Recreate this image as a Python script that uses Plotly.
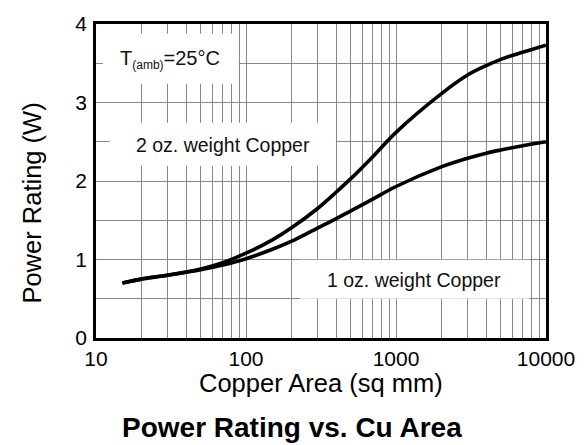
import plotly.graph_objects as go

# Data
copper_area = [15, 20, 30, 50, 70, 100, 150, 200, 300, 400, 500, 700, 1000,
               2000, 3000, 4000, 5000, 7000, 10000]
power_2oz = [0.70, 0.75, 0.80, 0.88, 0.96, 1.08, 1.25, 1.40, 1.65, 1.86, 2.03,
             2.31, 2.62, 3.11, 3.35, 3.47, 3.55, 3.64, 3.73]
power_1oz = [0.70, 0.75, 0.80, 0.87, 0.93, 1.01, 1.13, 1.23, 1.40, 1.52, 1.62,
             1.77, 1.93, 2.18, 2.29, 2.355, 2.395, 2.45, 2.50]

x_major_ticks = [10, 100, 1000, 10000]
x_major_text = ["10", "100", "1000", "10000"]
x_minor_ticks = [m * d for d in (10, 100, 1000) for m in range(2, 10)]
y_ticks = [0, 1, 2, 3, 4]
y_minor_ticks = [0.5, 1.5, 2.5, 3.5]

FONT = "Liberation Sans, Arial, sans-serif"
GRID = "#888888"

# plot area in pixels
L, R, T, B = 96, 550, 17, 338
W, H = 587, 445
PW, PH = R - L, B - T


def px(x):
    return (x - L) / PW


def py(y):
    return (B - y) / PH


fig = go.Figure()
for series in (power_2oz, power_1oz):
    fig.add_trace(go.Scatter(x=copper_area, y=series, mode="lines",
                             line=dict(color="black", width=3.6, shape="spline", smoothing=0.9),
                             showlegend=False, hoverinfo="skip"))

# white label boxes covering the gridlines (the curves do not pass through them)
boxes = [(103, 27, 240, 78), (110, 118, 338, 162), (302, 258, 533, 298)]
shapes = []
for (x0, y0, x1, y1) in boxes:
    shapes.append(dict(type="rect", xref="x domain", yref="y domain",
                       x0=px(x0), x1=px(x1), y0=py(y1), y1=py(y0),
                       fillcolor="white", line=dict(width=0), layer="above"))

annotations = [
    dict(text="T<sub><span style='font-size:12px'>(amb)</span></sub>=25°C", x=px(171), y=py(53),
         xref="paper", yref="paper",
         showarrow=False, font=dict(family=FONT, size=20, color="#111"),
         xanchor="center", yanchor="middle"),
    dict(text="2 oz. weight Copper", x=px(224), y=py(141), xref="paper", yref="paper",
         showarrow=False, font=dict(family=FONT, size=19.5, color="#111"),
         xanchor="center", yanchor="middle"),
    dict(text="1 oz. weight Copper", x=px(417), y=py(279), xref="paper", yref="paper",
         showarrow=False, font=dict(family=FONT, size=19.5, color="#111"),
         xanchor="center", yanchor="middle"),
    dict(text="Copper Area (sq mm)", x=0.5, y=py(384), xref="paper", yref="paper",
         showarrow=False, font=dict(family=FONT, size=25.5, color="black"),
         xanchor="center", yanchor="middle"),
    dict(text="Power Rating (W)", x=px(31), y=py(200), xref="paper", yref="paper",
         showarrow=False, textangle=-90, font=dict(family=FONT, size=25.5, color="black"),
         xanchor="center", yanchor="middle"),
    dict(text="<b>Power Rating vs. Cu Area</b>", x=px(294), y=py(430), xref="paper", yref="paper",
         showarrow=False, font=dict(family=FONT, size=28, color="black"),
         xanchor="center", yanchor="middle"),
]

fig.update_layout(
    width=W, height=H,
    margin=dict(l=L, r=W - R, t=T, b=H - B, pad=0),
    paper_bgcolor="white", plot_bgcolor="white",
    shapes=shapes, annotations=annotations,
    xaxis=dict(type="log", range=[1, 4], tickvals=x_major_ticks, ticktext=x_major_text,
               showgrid=True, gridcolor=GRID, gridwidth=1,
               minor=dict(tickvals=x_minor_ticks, showgrid=True, gridcolor=GRID, gridwidth=1, ticks=""),
               showline=True, linecolor="black", linewidth=2.5, mirror=True,
               ticks="", ticklabelstandoff=0, zeroline=False,
               tickfont=dict(family=FONT, size=21, color="black")),
    yaxis=dict(range=[0, 4], tickvals=y_ticks,
               showgrid=True, gridcolor=GRID, gridwidth=1,
               minor=dict(tickvals=y_minor_ticks, showgrid=True, gridcolor=GRID, gridwidth=1, ticks=""),
               showline=True, linecolor="black", linewidth=2.5, mirror=True,
               ticks="", ticklabelstandoff=2, zeroline=False,
               tickfont=dict(family=FONT, size=21, color="black")),
)

fig.write_html("out.html", config={"displayModeBar": False},
               post_script="document.body.style.margin='0';document.body.style.padding='0';")
